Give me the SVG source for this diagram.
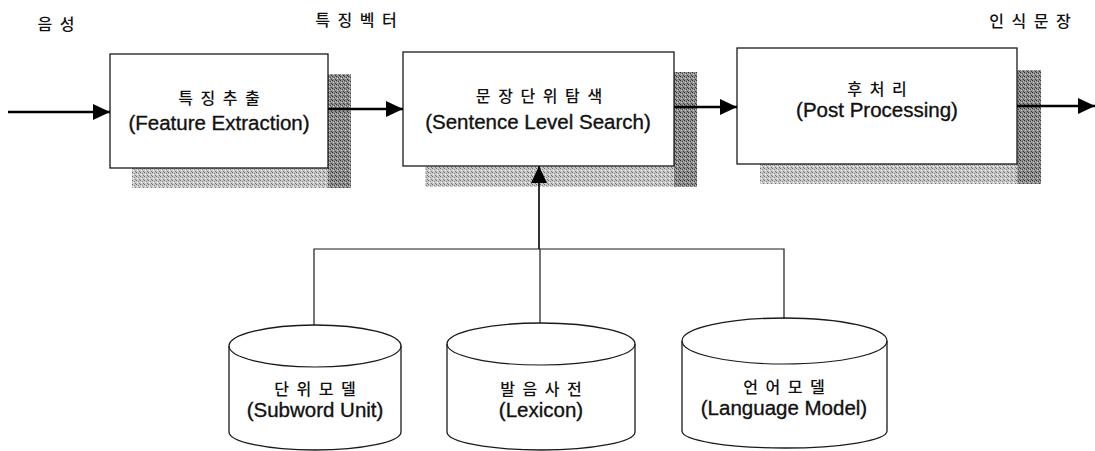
<svg xmlns="http://www.w3.org/2000/svg" width="1095" height="451" viewBox="0 0 1095 451">
  <defs>
    <pattern id="stipL" width="4" height="4" patternUnits="userSpaceOnUse">
      <rect width="4" height="4" fill="#c8c8c8"/>
      <rect x="0" y="0" width="1" height="1" fill="#6a6a6a"/>
      <rect x="2" y="1" width="1" height="1" fill="#8a8a8a"/>
      <rect x="1" y="2" width="1" height="1" fill="#ffffff"/>
      <rect x="3" y="3" width="1" height="1" fill="#7a7a7a"/>
    </pattern>
    <pattern id="stipD" width="4" height="4" patternUnits="userSpaceOnUse">
      <rect width="4" height="4" fill="#8c8c8c"/>
      <rect x="0" y="0" width="1" height="1" fill="#333"/>
      <rect x="2" y="1" width="1" height="1" fill="#444"/>
      <rect x="1" y="2" width="1" height="1" fill="#d8d8d8"/>
      <rect x="3" y="3" width="1" height="1" fill="#3a3a3a"/>
      <rect x="3" y="1" width="1" height="1" fill="#bbbbbb"/>
    </pattern>
    <marker id="ah" markerUnits="userSpaceOnUse" markerWidth="18" markerHeight="16" refX="17" refY="8" orient="auto">
      <path d="M0,0 L17,8 L0,16 z" fill="#000"/>
    </marker>
  </defs>
  <style>
    .box { fill: #fff; stroke: #1a1a1a; stroke-width: 1.3; }
    .shL { fill: url(#stipL); }
    .shD { fill: url(#stipD); }
    .kr { font-family: "Noto Sans CJK KR", sans-serif; font-size: 16px; font-weight: 500; letter-spacing: 2px; fill: #111; text-anchor: middle; }
    .en { font-family: "Liberation Sans", Arial, sans-serif; font-size: 20.5px; fill: #111; stroke: #111; stroke-width: 0.35; text-anchor: middle; }
    .cyl { fill: #fff; stroke: #1a1a1a; stroke-width: 1.3; }
    .arrow { fill: none; stroke: #000; stroke-width: 2.3; }
    .thin { fill: none; stroke: #1a1a1a; stroke-width: 1.2; }
  </style>

  <!-- header labels -->
  <g id="labels">
    <text class="kr" x="57" y="30">음 성</text>
    <text class="kr" x="357" y="26">특 징 벡 터</text>
    <text class="kr" x="1031" y="27">인 식 문 장</text>
  </g>

  <!-- node 1 -->
  <g id="feature-extraction">
    <rect class="shL" x="132" y="168" width="219" height="20"/>
    <rect class="shD" x="328" y="74" width="23" height="114"/>
    <rect class="box" x="110" y="54" width="218" height="114"/>
    <text class="kr" x="220" y="104">특 징 추 출</text>
    <text class="en" x="219" y="130">(Feature Extraction)</text>
  </g>

  <!-- node 2 -->
  <g id="sentence-level-search">
    <rect class="shL" x="425" y="166" width="272" height="21"/>
    <rect class="shD" x="674" y="72" width="23" height="115"/>
    <rect class="box" x="403" y="52" width="271" height="114"/>
    <text class="kr" x="540" y="102">문 장 단 위 탐 색</text>
    <text class="en" x="538" y="129">(Sentence Level Search)</text>
  </g>

  <!-- node 3 -->
  <g id="post-processing">
    <rect class="shL" x="760" y="164" width="281" height="20"/>
    <rect class="shD" x="1017" y="70" width="24" height="114"/>
    <rect class="box" x="737" y="48" width="280" height="116"/>
    <text class="kr" x="878" y="95">후 처 리</text>
    <text class="en" x="877" y="117">(Post Processing)</text>
  </g>

  <!-- databases -->
  <g id="subword-unit">
    <path class="cyl" d="M229,346 L229,432 A86,18 0 0 0 401,432 L401,346 A86,21 0 0 0 229,346 Z"/>
    <path class="thin" d="M229,346 A86,21 0 0 0 401,346"/>
    <text class="kr" x="316" y="395">단 위 모 델</text>
    <text class="en" x="315" y="417">(Subword Unit)</text>
  </g>
  <g id="lexicon">
    <path class="cyl" d="M447,344 L447,432 A94,18 0 0 0 635,432 L635,344 A94,21 0 0 0 447,344 Z"/>
    <path class="thin" d="M447,344 A94,21 0 0 0 635,344"/>
    <text class="kr" x="542" y="395">발 음 사 전</text>
    <text class="en" x="541" y="417">(Lexicon)</text>
  </g>
  <g id="language-model">
    <path class="cyl" d="M682,341 L682,431 A102.5,17 0 0 0 887,431 L887,341 A102.5,23 0 0 0 682,341 Z"/>
    <path class="thin" d="M682,341 A102.5,23 0 0 0 887,341"/>
    <text class="kr" x="785" y="393">언 어 모 델</text>
    <text class="en" x="784" y="415">(Language Model)</text>
  </g>

  <!-- connectors -->
  <g id="connectors">
    <line class="arrow" x1="8" y1="112" x2="110" y2="112" marker-end="url(#ah)"/>
    <line class="arrow" x1="328" y1="109" x2="403" y2="109" marker-end="url(#ah)"/>
    <line class="arrow" x1="674" y1="107" x2="737" y2="107" marker-end="url(#ah)"/>
    <line class="arrow" x1="1017" y1="106" x2="1095" y2="106" marker-end="url(#ah)"/>
    <line class="arrow" style="stroke-width:1.6" x1="539" y1="249" x2="539" y2="166" marker-end="url(#ah)"/>
    <polyline class="thin" points="314,325 314,249 784,249 784,319"/>
    <line class="thin" x1="540" y1="249" x2="540" y2="323"/>
  </g>
</svg>
